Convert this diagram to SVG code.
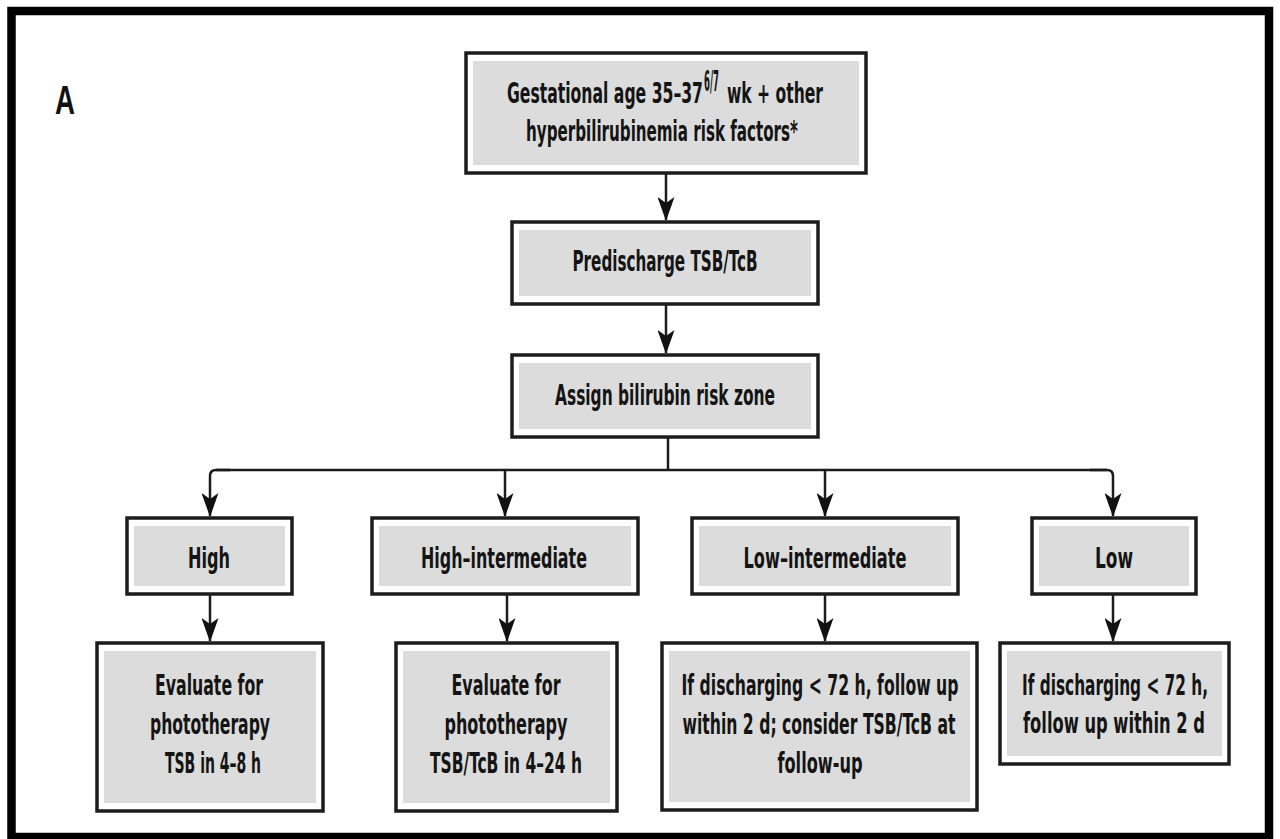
<svg xmlns="http://www.w3.org/2000/svg" width="1280" height="839" viewBox="0 0 1280 839">
<style>
.frame{fill:#ffffff;stroke:#1c1c1c;stroke-width:3.5}
.inner{fill:#dcdcdc}
.t{font-family:"Liberation Sans Narrow","DejaVu Sans Condensed","Liberation Sans",Arial,sans-serif;font-weight:bold;font-size:28px;fill:#141414;text-anchor:middle}
.s{text-anchor:start}
.con{fill:none;stroke:#1c1c1c;stroke-width:2.5}
</style>
<defs>
<marker id="ah" markerUnits="userSpaceOnUse" markerWidth="24" markerHeight="17" viewBox="0 0 24 17" refX="23" refY="8.5" orient="auto">
<path d="M0,0 L24,8.5 L0,17 L6,8.5 Z" fill="#111"/>
</marker>
</defs>
<rect x="0" y="0" width="1280" height="839" fill="#ffffff"/>
<rect x="11.5" y="11" width="1257.5" height="826" fill="none" stroke="#000" stroke-width="8.5"/>
<text x="65" y="114" font-family="'Liberation Sans Narrow','Liberation Sans',Arial,sans-serif" font-weight="bold" font-size="40" fill="#111" text-anchor="middle" textLength="20" lengthAdjust="spacingAndGlyphs">A</text>

<g id="connectors">
<path class="con" d="M666 173 V220" marker-end="url(#ah)"/>
<path class="con" d="M666 304 V353" marker-end="url(#ah)"/>
<path class="con" d="M668 437 V470"/>
<path class="con" d="M216 470 H1107"/>
<path class="con" d="M230 470 H216 Q210 470 210 476 V516" marker-end="url(#ah)"/>
<path class="con" d="M1090 470 H1107 Q1113 470 1113 476 V516" marker-end="url(#ah)"/>
<path class="con" d="M505 470 V516" marker-end="url(#ah)"/>
<path class="con" d="M825 470 V516" marker-end="url(#ah)"/>
<path class="con" d="M210 594 V641" marker-end="url(#ah)"/>
<path class="con" d="M507 594 V641" marker-end="url(#ah)"/>
<path class="con" d="M825 594 V641" marker-end="url(#ah)"/>
<path class="con" d="M1113 594 V641" marker-end="url(#ah)"/>
</g>

<g id="n-gest">
<rect class="frame" x="466" y="53" width="400" height="120"/>
<rect class="inner" x="473" y="61" width="386" height="104"/>
<text class="t s" x="507" y="103" textLength="196" lengthAdjust="spacingAndGlyphs">Gestational age 35–37</text>
<text class="t s" x="704" y="91" font-size="15" textLength="15" lengthAdjust="spacingAndGlyphs">6/7</text>
<text class="t s" x="727" y="103" textLength="96" lengthAdjust="spacingAndGlyphs">wk + other</text>
<text class="t" x="662" y="141" textLength="272" lengthAdjust="spacingAndGlyphs">hyperbilirubinemia risk factors*</text>
</g>

<g id="n-predischarge">
<rect class="frame" x="512" y="222" width="306" height="82"/>
<rect class="inner" x="519" y="230" width="292" height="66"/>
<text class="t" x="665" y="271" textLength="185" lengthAdjust="spacingAndGlyphs">Predischarge TSB/TcB</text>
</g>

<g id="n-assign">
<rect class="frame" x="512" y="355" width="306" height="82"/>
<rect class="inner" x="519" y="363" width="292" height="66"/>
<text class="t" x="665" y="405" textLength="220" lengthAdjust="spacingAndGlyphs">Assign bilirubin risk zone</text>
</g>

<g id="n-high">
<rect class="frame" x="127" y="518" width="165" height="76"/>
<rect class="inner" x="134" y="526" width="151" height="60"/>
<text class="t" x="209" y="568" textLength="42" lengthAdjust="spacingAndGlyphs">High</text>
</g>

<g id="n-highint">
<rect class="frame" x="372" y="518" width="266" height="76"/>
<rect class="inner" x="379" y="526" width="252" height="60"/>
<text class="t" x="504" y="568" textLength="166" lengthAdjust="spacingAndGlyphs">High–intermediate</text>
</g>

<g id="n-lowint">
<rect class="frame" x="692" y="518" width="266" height="76"/>
<rect class="inner" x="699" y="526" width="252" height="60"/>
<text class="t" x="825" y="568" textLength="163" lengthAdjust="spacingAndGlyphs">Low–intermediate</text>
</g>

<g id="n-low">
<rect class="frame" x="1032" y="518" width="164" height="76"/>
<rect class="inner" x="1039" y="526" width="150" height="60"/>
<text class="t" x="1114" y="568" textLength="38" lengthAdjust="spacingAndGlyphs">Low</text>
</g>

<g id="n-eval1">
<rect class="frame" x="97" y="643" width="226" height="168"/>
<rect class="inner" x="104" y="651" width="212" height="152"/>
<text class="t" x="209" y="695" textLength="108" lengthAdjust="spacingAndGlyphs">Evaluate for</text>
<text class="t" x="210" y="734" textLength="120" lengthAdjust="spacingAndGlyphs">phototherapy</text>
<text class="t" x="213" y="773" textLength="96" lengthAdjust="spacingAndGlyphs">TSB in 4–8 h</text>
</g>

<g id="n-eval2">
<rect class="frame" x="396" y="643" width="221" height="168"/>
<rect class="inner" x="403" y="651" width="207" height="152"/>
<text class="t" x="506" y="695" textLength="109" lengthAdjust="spacingAndGlyphs">Evaluate for</text>
<text class="t" x="506" y="734" textLength="123" lengthAdjust="spacingAndGlyphs">phototherapy</text>
<text class="t" x="506" y="773" textLength="152" lengthAdjust="spacingAndGlyphs">TSB/TcB in 4–24 h</text>
</g>

<g id="n-followup3">
<rect class="frame" x="662" y="643" width="315" height="167"/>
<rect class="inner" x="669" y="651" width="301" height="151"/>
<text class="t" x="820" y="695" textLength="277" lengthAdjust="spacingAndGlyphs">If discharging &lt; 72 h, follow up</text>
<text class="t" x="819" y="734" textLength="273" lengthAdjust="spacingAndGlyphs">within 2 d; consider TSB/TcB at</text>
<text class="t" x="820" y="773" textLength="85" lengthAdjust="spacingAndGlyphs">follow-up</text>
</g>

<g id="n-followup4">
<rect class="frame" x="1000" y="643" width="229" height="121"/>
<rect class="inner" x="1007" y="651" width="215" height="105"/>
<text class="t" x="1115" y="695" textLength="186" lengthAdjust="spacingAndGlyphs">If discharging &lt; 72 h,</text>
<text class="t" x="1114" y="733" textLength="182" lengthAdjust="spacingAndGlyphs">follow up within 2 d</text>
</g>
</svg>
